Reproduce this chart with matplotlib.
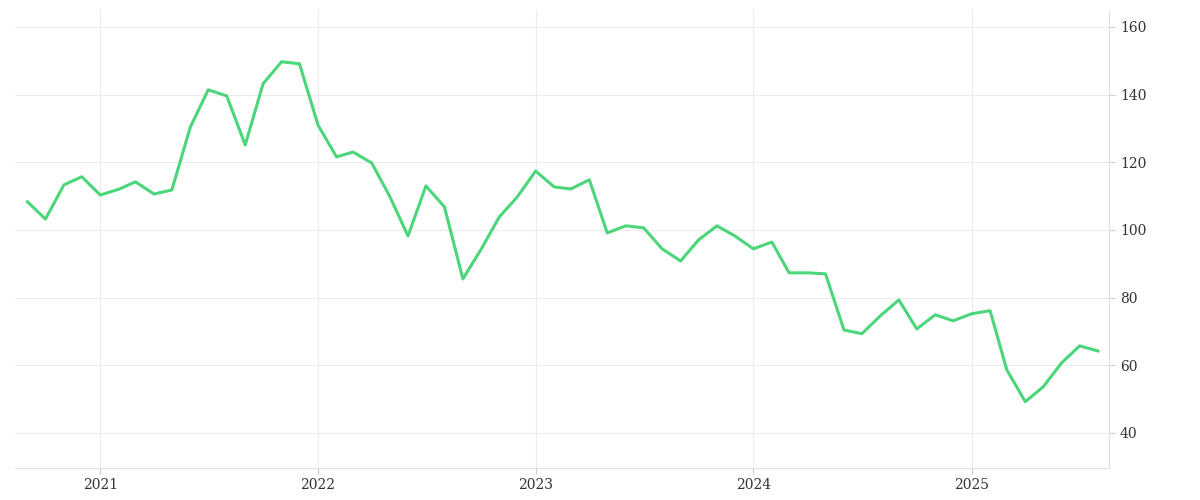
import matplotlib.pyplot as plt
import matplotlib.dates as mdates
import pandas as pd

dates = pd.date_range('2020-09-01', periods=60, freq='MS')
values = [108.3, 103.2, 113.3, 115.7, 110.3, 112.0, 114.2, 110.6, 111.8, 130.4,
          141.4, 139.6, 125.1, 143.2, 149.7, 149.1, 131.0, 121.6, 123.0, 119.8,
          110.0, 98.2, 113.0, 106.8, 85.5, 94.1, 103.8, 109.7, 117.4, 112.7,
          112.1, 114.8, 99.1, 101.2, 100.6, 94.4, 90.8, 97.0, 101.2, 98.2,
          94.4, 96.4, 87.3, 87.3, 87.0, 70.4, 69.3, 74.6, 79.3, 70.7,
          74.9, 73.1, 75.2, 76.1, 58.6, 49.2, 53.6, 60.7, 65.7, 64.2]
yticks = [40, 60, 80, 100, 120, 140, 160]

plt.rcParams['font.family'] = ['DejaVu Serif']
fig = plt.figure(figsize=(12, 5), dpi=100)
ax = fig.add_axes([0.0125, 0.064, 0.912, 0.916])
ax.plot(dates, values, color='#4cd67a', lw=2.2)

ax.set_xlim(pd.Timestamp('2020-08-11'), pd.Timestamp('2025-08-20'))
ax.set_ylim(29.6, 165)
ax.yaxis.tick_right()
ax.set_yticks(yticks)
ax.xaxis.set_major_locator(mdates.YearLocator())
ax.xaxis.set_major_formatter(mdates.DateFormatter('%Y'))
ax.grid(color='#ececec', lw=0.8)
for s in ['top', 'left']:
    ax.spines[s].set_visible(False)
for s in ['right', 'bottom']:
    ax.spines[s].set_color('#e0e0e0')
ax.tick_params(colors='#333333', labelsize=10, length=4)
ax.tick_params(axis='both', color='#cccccc')
fig.savefig('out.png')
